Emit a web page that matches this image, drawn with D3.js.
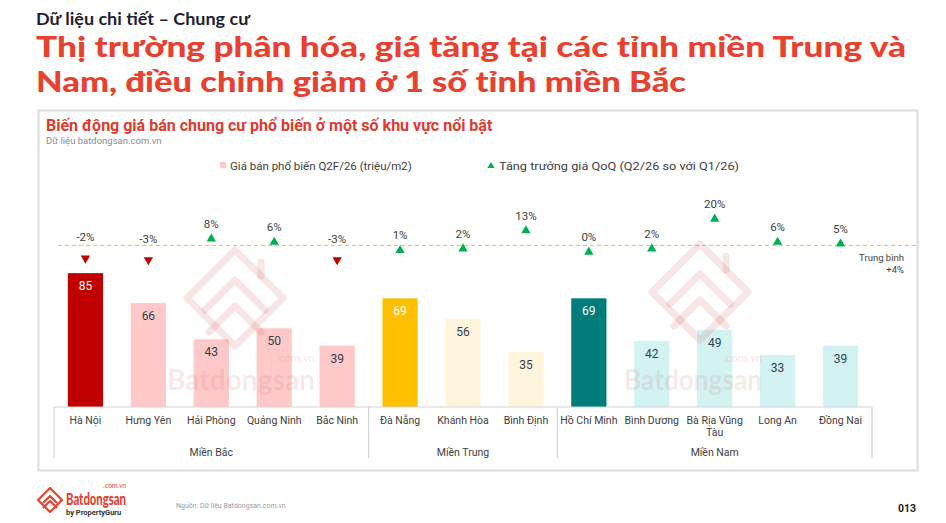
<!DOCTYPE html>
<html>
<head>
<meta charset="utf-8">
<script src="https://cdn.jsdelivr.net/npm/d3@7"></script>
<style>
  html, body { margin: 0; padding: 0; background: #fff; }
  svg { display: block; }
</style>
</head>
<body>
<div id="chart"></div>
<script>
// Chart data
const categories = ["Hà Nội", "Hưng Yên", "Hải Phòng", "Quảng Ninh", "Bắc Ninh",
  "Đà Nẵng", "Khánh Hòa", "Bình Định",
  "Hồ Chí Minh", "Bình Dương", "Bà Rịa Vũng Tàu", "Long An", "Đồng Nai"];
const prices = [85, 66, 43, 50, 39, 69, 56, 35, 69, 42, 49, 33, 39];
const growth = [-2, -3, 8, 6, -3, 1, 2, 13, 0, 2, 20, 6, 5];
const regions = ["Miền Bắc", "Miền Trung", "Miền Nam"];
const regionOf = [0, 0, 0, 0, 0, 1, 1, 1, 2, 2, 2, 2, 2];
const highlight = ["Hà Nội", "Đà Nẵng", "Hồ Chí Minh"];
const avgGrowth = 4;

const width = 946, height = 523;
const svg = d3.select("#chart").append("svg")
  .attr("width", width).attr("height", height)
  .style("font-family", "Roboto, 'Noto Sans', sans-serif");

// colours per region: [highlight, normal]
const regionColors = [["#C00000", "#FFC9C9"], ["#FFC000", "#FFF5DC"], ["#007C7A", "#D3F3F2"]];
const barColor = (c, i) => regionColors[regionOf[i]][highlight.includes(c) ? 0 : 1];

// page header
svg.append("text").attr("x", 36).attr("y", 25)
  .attr("font-family", "Lato, sans-serif").attr("font-weight", 700)
  .attr("font-size", 17).attr("fill", "#1E1E32")
  .attr("textLength", 214).attr("lengthAdjust", "spacingAndGlyphs")
  .text("Dữ liệu chi tiết – Chung cư");

const titleLines = ["Thị trường phân hóa, giá tăng tại các tỉnh miền Trung và",
  "Nam, điều chỉnh giảm ở 1 số tỉnh miền Bắc"];
const titleLen = [870, 650];
titleLines.forEach((t, i) => {
  svg.append("text").attr("x", 36).attr("y", 57 + i * 35)
    .attr("font-family", "Lato, sans-serif").attr("font-weight", 900)
    .attr("font-size", 29).attr("fill", "#E8412F")
    .attr("textLength", titleLen[i]).attr("lengthAdjust", "spacingAndGlyphs")
    .text(t);
});

// card
svg.append("rect").attr("x", 38.5).attr("y", 110.5).attr("width", 879).attr("height", 360)
  .attr("fill", "#fff").attr("stroke", "#DCDCDC").attr("stroke-width", 2);

svg.append("text").attr("x", 46).attr("y", 131)
  .attr("font-weight", 700).attr("font-size", 16).attr("fill", "#E03A2F")
  .text("Biến động giá bán chung cư phổ biến ở một số khu vực nổi bật");
svg.append("text").attr("x", 46).attr("y", 144)
  .attr("font-size", 9.5).attr("fill", "#8C8C8C")
  .text("Dữ liệu batdongsan.com.vn");

// legend
const lg = svg.append("g").attr("font-size", 11.5).attr("fill", "#404040");
lg.append("rect").attr("x", 220).attr("y", 162).attr("width", 6).attr("height", 6).attr("fill", "#FFC9C9");
lg.append("text").attr("x", 230).attr("y", 170).text("Giá bán phổ biến Q2F/26 (triệu/m2)");
lg.append("path").attr("d", d3.symbol(d3.symbolTriangle, 22)())
  .attr("transform", "translate(491,166)").attr("fill", "#00B050");
lg.append("text").attr("x", 499).attr("y", 170)
  .attr("textLength", 240).attr("lengthAdjust", "spacingAndGlyphs")
  .text("Tăng trưởng giá QoQ (Q2/26 so với Q1/26)");

// scales
const x = d3.scaleBand().domain(categories).range([54, 872])
  .paddingInner(0.44).paddingOuter(0.22);
const y = d3.scaleLinear().domain([0, 100]).range([407, 249.5]);
const y2 = d3.scaleLinear().domain([0, 20]).range([252, 219]);

// bars
svg.append("g").selectAll("rect").data(categories).join("rect")
  .attr("x", d => x(d)).attr("width", x.bandwidth())
  .attr("y", (d, i) => y(prices[i])).attr("height", (d, i) => y(0) - y(prices[i]))
  .attr("fill", (d, i) => barColor(d, i));

svg.append("g").selectAll("text").data(categories).join("text")
  .attr("x", d => x(d) + x.bandwidth() / 2)
  .attr("y", (d, i) => y(prices[i]) + 17)
  .attr("text-anchor", "middle").attr("font-size", 12)
  .attr("fill", d => highlight.includes(d) ? "#fff" : "#333F4F")
  .text((d, i) => prices[i]);

// average line
svg.append("line").attr("x1", 58).attr("x2", 917)
  .attr("y1", y2(avgGrowth)).attr("y2", y2(avgGrowth))
  .attr("stroke", "#FFC000").attr("stroke-width", 1).attr("stroke-dasharray", "4,3");
svg.append("text").attr("x", 904).attr("y", 261).attr("text-anchor", "end")
  .attr("font-size", 9.5).attr("fill", "#404040").text("Trung bình");
svg.append("text").attr("x", 904).attr("y", 273).attr("text-anchor", "end")
  .attr("font-size", 9.5).attr("fill", "#404040").text("+" + avgGrowth + "%");

// growth markers
const tri = d3.symbol(d3.symbolTriangle, 38)();
svg.append("g").selectAll("path").data(categories).join("path")
  .attr("d", tri)
  .attr("transform", (d, i) => {
    const cx = x(d) + x.bandwidth() / 2;
    return growth[i] < 0
      ? `translate(${cx},${y2(growth[i]) + 3}) rotate(180)`
      : `translate(${cx},${y2(growth[i])})`;
  })
  .attr("fill", (d, i) => growth[i] < 0 ? "#C00000" : "#00B050");

svg.append("g").selectAll("text").data(categories).join("text")
  .attr("x", d => x(d) + x.bandwidth() / 2)
  .attr("y", (d, i) => growth[i] < 0 ? y2(growth[i]) - 14 : y2(growth[i]) - 11)
  .attr("text-anchor", "middle").attr("font-size", 11.5).attr("fill", "#404040")
  .text((d, i) => growth[i] + "%");

// category axis
const axisY = y(0);
const edge = x.step() * x.paddingOuter();
svg.append("line").attr("x1", 54).attr("x2", 872).attr("y1", axisY).attr("y2", axisY)
  .attr("stroke", "#D4D4D4").attr("stroke-width", 1.2);

const catLabels = svg.append("g").selectAll("text").data(categories).join("text")
  .attr("x", d => x(d) + x.bandwidth() / 2)
  .attr("y", axisY + 17)
  .attr("text-anchor", "middle").attr("font-size", 10.5).attr("fill", "#404040")
  .text(d => d);

// wrap long labels
catLabels.each(function(d) {
  const el = d3.select(this);
  if (this.getComputedTextLength() <= 62) return;
  const words = d.split(" ");
  const cx = el.attr("x");
  el.text(null);
  let line = [], tspan = el.append("tspan").attr("x", cx).attr("dy", 0);
  words.forEach(w => {
    line.push(w);
    tspan.text(line.join(" "));
    if (tspan.node().getComputedTextLength() > 62 && line.length > 1) {
      line.pop();
      tspan.text(line.join(" "));
      line = [w];
      tspan = el.append("tspan").attr("x", cx).attr("dy", 12).text(w);
    }
  });
});

// region separators and labels
regions.forEach((r, k) => {
  const idx = regionOf.map((g, i) => g === k ? i : -1).filter(i => i >= 0);
  const x0 = x(categories[idx[0]]) - edge;
  const x1 = x(categories[idx[idx.length - 1]]) + x.bandwidth() + edge;
  svg.append("text").attr("x", (x0 + x1) / 2).attr("y", axisY + 49)
    .attr("text-anchor", "middle").attr("font-size", 10.5).attr("fill", "#404040")
    .text(r);
  if (k === 0) {
    svg.append("line").attr("x1", x0).attr("x2", x0).attr("y1", axisY).attr("y2", axisY + 51)
      .attr("stroke", "#D4D4D4").attr("stroke-width", 1.2);
  }
  svg.append("line").attr("x1", x1).attr("x2", x1).attr("y1", axisY).attr("y2", axisY + 51)
    .attr("stroke", "#D4D4D4").attr("stroke-width", 1.2);
});

// watermarks
function watermark(cx, cy, tx, tw) {
  const g = svg.append("g").attr("fill", "none")
    .attr("stroke", "rgba(205,80,80,0.15)").attr("stroke-width", 7)
    .attr("stroke-linejoin", "round").attr("stroke-linecap", "round");
  g.append("path").attr("d", `M${cx - 48},${cy} L${cx},${cy - 48} L${cx + 48},${cy} L${cx},${cy + 48} Z`);
  g.append("path").attr("d", `M${cx - 30},${cy + 12} L${cx},${cy - 18} L${cx + 30},${cy + 12}`);
  g.append("path").attr("d", `M${cx - 26},${cy + 34} L${cx},${cy + 8} L${cx + 26},${cy + 34}`);
  g.append("path").attr("d", `M${cx + 26},${cy - 22} L${cx + 26},${cy - 36}`);
  svg.append("text").attr("x", tx + tw).attr("y", 362).attr("text-anchor", "end")
    .attr("font-size", 11).attr("fill", "rgba(205,80,80,0.15)").attr("font-weight", 500)
    .text(".com.vn");
  svg.append("text").attr("x", tx).attr("y", 390)
    .attr("font-family", "Lato, sans-serif").attr("font-weight", 700)
    .attr("font-size", 28).attr("fill", "rgba(205,80,80,0.13)")
    .attr("textLength", tw).attr("lengthAdjust", "spacingAndGlyphs")
    .text("Batdongsan");
}
watermark(235, 298, 167, 148);
watermark(700, 292, 624, 138);

// footer logo
const logo = svg.append("g").attr("fill", "none").attr("stroke", "#E8412F")
  .attr("stroke-width", 2.2).attr("stroke-linejoin", "round");
logo.append("path").attr("d", "M38,500 L50,488 L62,500 L50,512 Z");
logo.append("path").attr("d", "M43,503 L50,496 L57,503");
logo.append("path").attr("d", "M43,508 L50,501 L57,508");
svg.append("text").attr("x", 66).attr("y", 505)
  .attr("font-family", "Lato, sans-serif").attr("font-weight", 900)
  .attr("font-size", 16).attr("fill", "#E8412F")
  .attr("textLength", 60).attr("lengthAdjust", "spacingAndGlyphs").text("Batdongsan");
svg.append("text").attr("x", 126).attr("y", 488).attr("text-anchor", "end")
  .attr("font-size", 6.5).attr("fill", "#E8412F").text(".com.vn");
svg.append("text").attr("x", 66).attr("y", 515)
  .attr("font-weight", 700).attr("font-size", 7.5).attr("fill", "#333")
  .text("by PropertyGuru");
svg.append("text").attr("x", 176).attr("y", 508)
  .attr("font-size", 7).attr("fill", "#9A9A9A").text("Nguồn: Dữ liệu Batdongsan.com.vn");
svg.append("text").attr("x", 916).attr("y", 512).attr("text-anchor", "end")
  .attr("font-weight", 700).attr("font-size", 10.5).attr("fill", "#222").text("013");
</script>
</body>
</html>
